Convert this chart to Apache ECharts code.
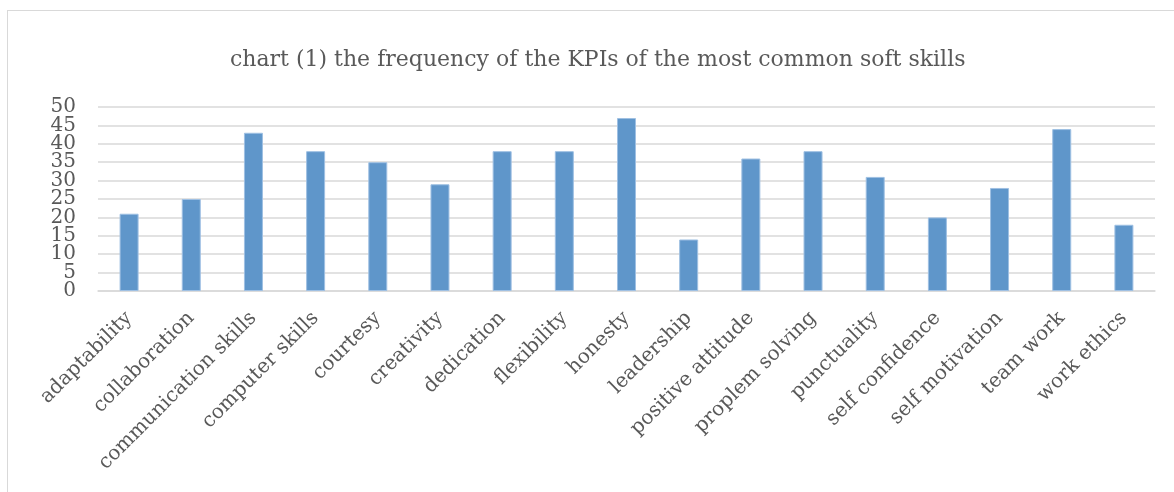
<!DOCTYPE html>
<html><head><meta charset="utf-8">
<script src="https://cdn.jsdelivr.net/npm/echarts@6/dist/echarts.min.js"></script>
<style>
html,body{margin:0;padding:0;background:#fff;}
#frame{position:absolute;left:7px;top:10px;width:1200px;height:520px;border:1px solid #d9d9d9;box-sizing:border-box;}
#c{position:absolute;left:0;top:0;width:1174px;height:492px;}
</style></head>
<body>
<div id="frame"></div>
<div id="c"></div>
<script>
const categories = ['adaptability','collaboration','communication skills','computer skills','courtesy','creativity','dedication','flexibility','honesty','leadership','positive attitude','proplem solving','punctuality','self confidence','self motivation','team work','work ethics'];
const values = [21,25,43,38,35,29,38,38,47,14,36,38,31,20,28,44,18];
const titleText = 'chart (1) the frequency of the KPIs of the most common soft skills';

const chart = echarts.init(document.getElementById('c'), null, {renderer:'canvas'});
const serif = '"DejaVu Serif", "Liberation Serif", serif';
const yLabel = {margin:22,fontFamily:serif,fontSize:20,color:'#595959',hideOverlap:false};
chart.setOption({
  animation:false,
  title:{text:titleText,left:225,top:44,textStyle:{fontFamily:serif,fontSize:22,fontWeight:'normal',color:'#595959'}},
  grid:{left:98,right:19,top:107,bottom:201,containLabel:false},
  xAxis:{type:'category',data:categories,
    axisLine:{show:true,lineStyle:{color:'#d9d9d9',width:1.5}},
    axisTick:{show:false},
    axisLabel:{interval:0,rotate:45,margin:24,fontFamily:serif,fontSize:20,color:'#595959'}},
  yAxis:[
    {type:'value',min:0,max:50,interval:10,position:'left',
      axisLine:{show:false},axisTick:{show:false},splitLine:{show:false},
      axisLabel:Object.assign({showMinLabel:true,showMaxLabel:true},yLabel)},
    {type:'value',min:0,max:50,interval:5,position:'left',offset:0,
      axisLine:{show:false},axisTick:{show:false},
      splitLine:{show:true,lineStyle:{color:'#d9d9d9',width:1.5}},
      axisLabel:Object.assign({formatter:function(v){return v%10===5?String(v):'';}},yLabel)}
  ],
  series:[{type:'bar',data:values,barWidth:19,yAxisIndex:0,
    itemStyle:{color:'#5f96ca',borderColor:'#9fc0e3',borderWidth:1}}]
});
</script>
</body></html>
